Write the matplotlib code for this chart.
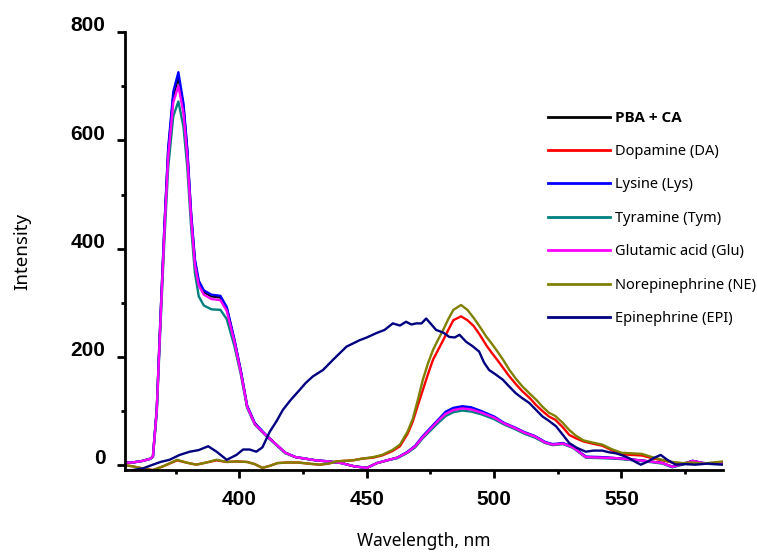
import matplotlib
matplotlib.use("Agg")
import matplotlib.pyplot as plt
from matplotlib.ticker import MultipleLocator
from matplotlib.font_manager import FontProperties
import matplotlib.transforms as mtransforms

# ---------------- data ----------------
wl_a = [355, 358, 362, 365, 366, 367.5, 369, 370.5, 372, 374, 376, 378, 379.5, 381, 382.5,
        384, 386, 389, 392.5, 395, 398, 400.5, 403, 406, 410, 414, 418, 422, 426, 430,
        435, 440, 445, 450, 454, 458, 462, 466, 469, 472, 475, 478, 481, 484, 487.5,
        491, 495, 500, 504, 508, 512, 516, 520, 523, 527, 531, 536, 542, 548, 555,
        561, 566, 570, 574, 578, 582, 586, 590]

glu = [5, 5, 8, 12, 16, 100, 270, 430, 570, 670, 701, 650, 570, 455, 370,
       332, 315, 307, 305, 285, 228, 172, 108, 76, 57, 40, 23, 15, 12, 9,
       7, 4, -2, -5, 4, 9, 14, 24, 35, 52, 67, 82, 95, 102, 105,
       103, 97, 88, 77, 69, 60, 53, 42, 38, 40, 33, 15, 14, 13, 10,
       7, 4, -3, 2, 8, 4, 3, 3]

pba = [5, 5, 8, 12, 16, 102, 275, 438, 580, 682, 717, 662, 580, 462, 376,
       338, 320, 312, 310, 290, 231, 174, 109, 77, 57, 40, 23, 15, 12, 9,
       7, 4, -2, -5, 4, 9, 14, 24, 35, 52, 67, 82, 96, 103, 106,
       104, 98, 88, 77, 69, 60, 53, 42, 38, 40, 33, 15, 14, 13, 10,
       7, 4, -3, 2, 8, 4, 3, 3]

lys = [5, 5, 8, 12, 16, 104, 278, 442, 586, 690, 726, 668, 585, 466, 380,
       341, 323, 315, 313, 292, 232, 175, 110, 78, 58, 40, 23, 15, 12, 9,
       7, 4, -2, -5, 4, 9, 14, 25, 36, 54, 69, 84, 99, 106, 109,
       107, 100, 90, 78, 70, 61, 54, 43, 39, 41, 34, 16, 15, 13, 10,
       7, 4, -3, 2, 8, 4, 3, 3]

tym = [5, 5, 8, 12, 15, 96, 260, 415, 550, 645, 672, 625, 550, 440, 355,
       312, 295, 288, 287, 270, 220, 168, 106, 75, 56, 39, 22, 15, 12, 9,
       7, 4, -2, -5, 4, 9, 13, 23, 33, 50, 64, 78, 91, 98, 101,
       99, 94, 85, 75, 67, 58, 51, 41, 37, 39, 32, 14, 13, 12, 9,
       6, 3, -4, 1, 7, 3, 2, 2]

wl_b = [355, 358, 362, 366, 370, 375.5, 379, 383, 387, 391, 395, 399, 403, 406, 409,
        412, 415, 419, 423, 427, 431.5, 435, 438, 441, 444.5, 448, 452.5, 456, 460, 463,
        466, 468, 470, 472, 474, 476, 478, 480, 482, 484, 487, 489.5, 492, 494.5, 497,
        499, 501, 503.5, 506, 508.5, 511, 514, 516.5, 519, 521.5, 524, 527, 529.5, 532, 535,
        538.5, 542.5, 546, 550, 554, 558, 562, 566, 570, 574, 578, 582, 586, 590]

ne = [0, -2, -6, -9, -2, 10, 5, 1, 5, 10, 6, 7, 6, 2, -5,
      -1, 4, 5, 5, 3, 1, 3, 7, 8, 9, 12, 15, 19, 28, 38,
      62, 85, 120, 158, 188, 213, 232, 250, 270, 287, 296, 287, 272, 255, 237,
      225, 212, 195, 176, 160, 146, 132, 121, 108, 97, 91, 78, 65, 55, 46,
      42, 38, 30, 23, 22, 21, 15, 10, 6, 4, 5, 3, 5, 7]

da = [0, -2, -6, -9, -2, 9, 5, 1, 5, 9, 6, 7, 6, 2, -5,
      -1, 4, 5, 5, 3, 1, 3, 7, 8, 9, 12, 14, 18, 26, 35,
      58, 80, 110, 139, 168, 195, 213, 231, 250, 268, 275, 268, 257, 240, 221,
      208, 196, 180, 164, 150, 137, 124, 111, 100, 90, 84, 70, 56, 50, 44,
      40, 36, 28, 20, 19, 18, 13, 9, 5, 3, 5, 3, 4, 6]

wl_c = [355, 358, 362, 366, 369, 372.5, 376.5, 380.5, 384, 387.7, 391, 395, 398.8, 401.4, 404,
        406.6, 409, 411.9, 414.5, 417, 420, 423.6, 426, 428.8, 432.8, 437, 442, 447.2, 450, 453.7,
        457, 460.2, 463, 465.4, 467.5, 469.4, 471.5, 473.3, 475, 477.2, 480, 482.4, 484.5, 486.4, 489,
        491.5, 494.1, 496, 498, 500.5, 503.4, 506, 508.5, 511, 513.8, 516.5, 519, 521.5, 524.3, 527,
        529.5, 532.5, 536, 539, 542.5, 545, 547.8, 550.5, 553, 555.5, 557.6, 560, 563, 565.4, 568,
        571.3, 575, 579, 584, 590]

epi = [-9, -9, -6, 1, 6, 10, 19, 25, 28, 35, 25, 10, 19, 29, 29,
       25, 33, 62, 81, 102, 120, 139, 152, 164, 176, 196, 219, 231, 236, 244,
       250, 262, 258, 265, 260, 262, 262, 271, 262, 250, 245, 237, 236, 241, 228,
       220, 210, 190, 176, 168, 158, 145, 133, 124, 115, 102, 90, 82, 72, 56,
       41, 32, 25, 27, 27, 24, 22, 18, 13, 6, 1, 6, 14, 19, 10,
       1, 2, 1, 3, 1]

labels = ["PBA + CA", "Dopamine (DA)", "Lysine (Lys)", "Tyramine (Tym)",
          "Glutamic acid (Glu)", "Norepinephrine (NE)", "Epinephrine (EPI)"]
colors = ["#000000", "#ff0000", "#0000ff", "#008080", "#ff00ff", "#808000", "#000080"]

x_ticks = [400, 450, 500, 550]
y_ticks = [0, 200, 400, 600, 800]

# ---------------- plot ----------------
fig = plt.figure(figsize=(7.57, 5.55), dpi=100)
ax = fig.add_axes([0.165, 0.153, 0.7905, 0.789])

series = [(wl_a, pba), (wl_b, da), (wl_a, lys), (wl_a, tym), (wl_a, glu), (wl_b, ne), (wl_c, epi)]
for (xs, ys), lab, c in zip(series, labels, colors):
    ax.plot(xs, ys, color=c, lw=1.7, label=lab)

ax.set_xlim(355, 590)
ax.set_ylim(-9, 800)
ax.set_xticks(x_ticks)
ax.set_yticks(y_ticks)
ax.xaxis.set_minor_locator(MultipleLocator(25))
ax.yaxis.set_minor_locator(MultipleLocator(100))

for s in ["top", "right"]:
    ax.spines[s].set_visible(False)
for s in ["left", "bottom"]:
    ax.spines[s].set_linewidth(2)

ax.tick_params(which="major", direction="out", length=6, width=2, pad=8)
ax.tick_params(which="minor", direction="out", length=3, width=2)
for t in ax.get_xticklabels() + ax.get_yticklabels():
    t.set_fontfamily("Liberation Sans")
    t.set_fontweight("bold")
    t.set_fontsize(15)

# nudge y tick labels slightly up as in the reference
offset = mtransforms.ScaledTranslation(0, 6 / 72, fig.dpi_scale_trans)
for t in ax.get_yticklabels():
    t.set_transform(t.get_transform() + offset)

ax.set_xlabel("Wavelength, nm", fontsize=12.5, family="Noto Sans", labelpad=17)
ax.set_ylabel("Intensity", fontsize=13.5, family="Noto Sans", labelpad=28)

leg = ax.legend(loc="upper left", bbox_to_anchor=(0.707, 0.823), bbox_transform=fig.transFigure,
                frameon=False, prop={"family": "Noto Sans", "size": 10.5},
                handlelength=4.2, handletextpad=0.4, labelspacing=1.27)
for line in leg.get_lines():
    line.set_linewidth(2)
leg.get_texts()[0].set_fontproperties(
    FontProperties(family=["Open Sans", "DejaVu Sans"], weight="bold", size=11))

fig.savefig("out.png", dpi=100)
